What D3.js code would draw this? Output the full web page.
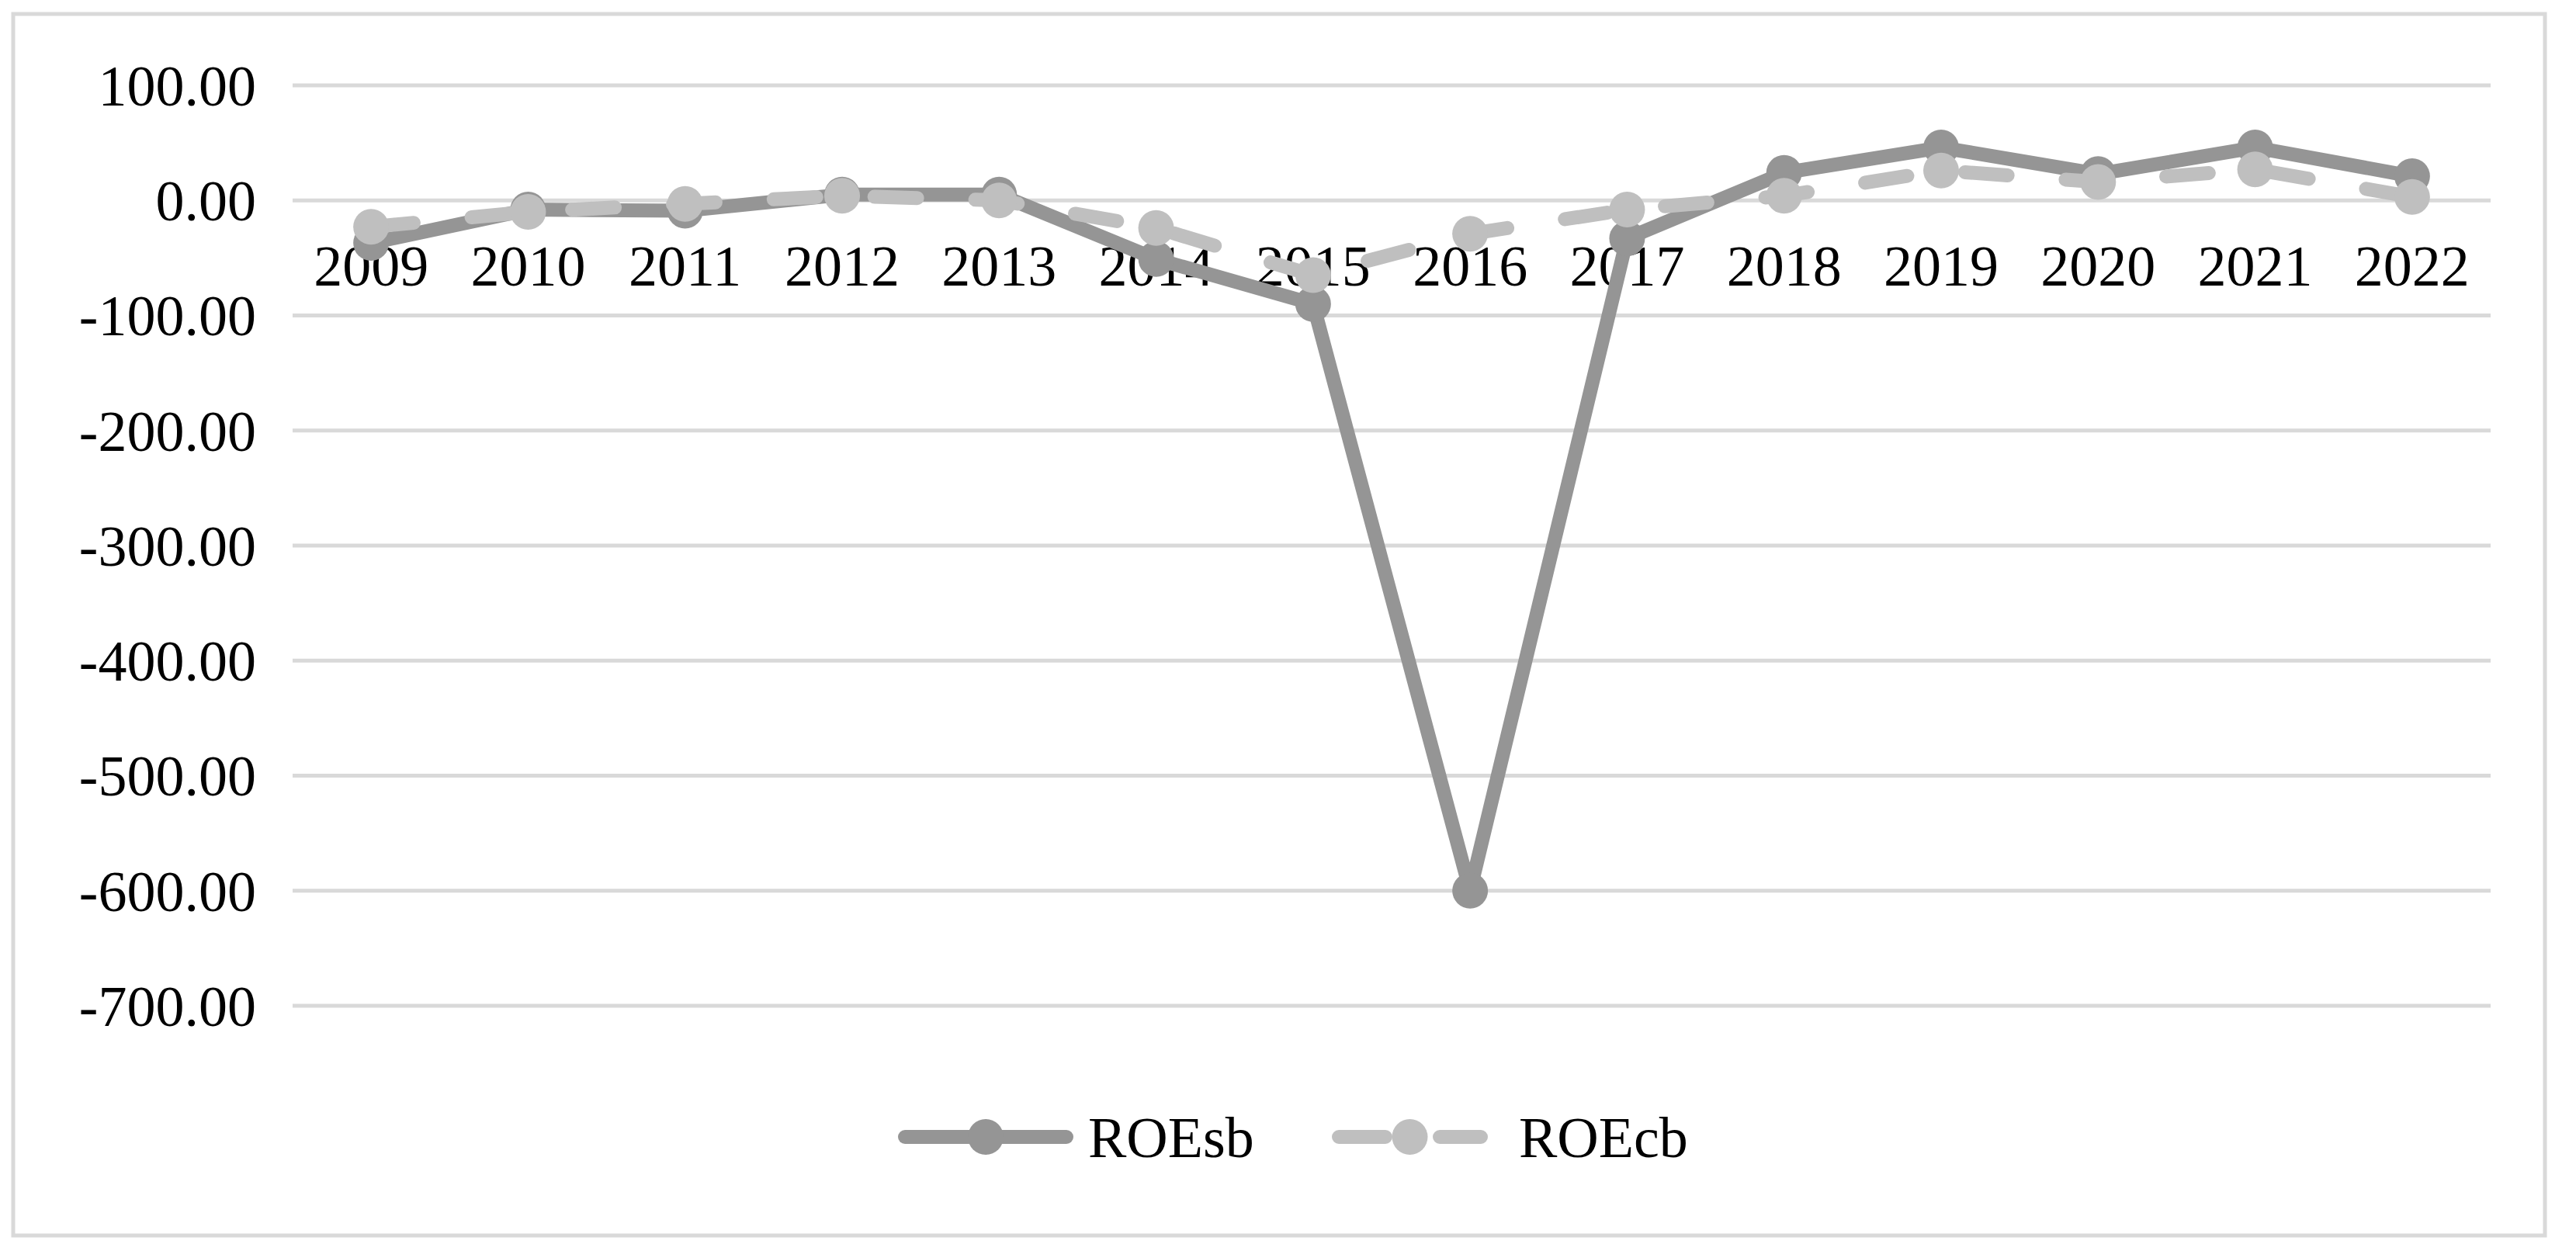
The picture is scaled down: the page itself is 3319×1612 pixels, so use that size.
<!DOCTYPE html>
<html><head><meta charset="utf-8">
<script src="https://cdn.jsdelivr.net/npm/d3@7"></script>
<style>body{margin:0;background:#fff}</style></head>
<body><svg id="c" width="3319" height="1612"></svg>
<script>
const years = ["2009","2010","2011","2012","2013","2014","2015","2016","2017","2018","2019","2020","2021","2022"];
const roeSb = [-37,-8,-9,5,5,-51,-90,-600,-33,24,46,23,46,21];
const roeCb = [-23,-10,-3,4,0,-24,-65,-29,-8,4,26,16,27,3];
const yTicks = [100,0,-100,-200,-300,-400,-500,-600,-700];
const seriesNames = ["ROEsb","ROEcb"];

const svg = d3.select("#c");
const font = "'Liberation Serif', 'DejaVu Serif', serif";
svg.append("rect").attr("x",17).attr("y",18).attr("width",3262).attr("height",1574)
  .attr("fill","#fff").attr("stroke","#d9d9d9").attr("stroke-width",5);

const x = d3.scaleBand().domain(years).range([377,3209]);
const y = d3.scaleLinear().domain([-700,100]).range([1296,110]);

const g = svg.append("g");
g.selectAll("line.grid").data(yTicks).join("line")
  .attr("x1",377).attr("x2",3209).attr("y1",d=>y(d)).attr("y2",d=>y(d))
  .attr("stroke","#d9d9d9").attr("stroke-width",5);
g.selectAll("text.yl").data(yTicks).join("text")
  .attr("x",330).attr("y",d=>y(d)).attr("dy","0.35em").attr("text-anchor","end")
  .attr("font-family",font).attr("font-size",74).attr("fill","#000")
  .text(d=>d3.format(".2f")(d).replace("\u2212","-"));
g.selectAll("text.xl").data(years).join("text")
  .attr("x",d=>x(d)+x.bandwidth()/2).attr("y",y(0)+110).attr("text-anchor","middle")
  .attr("font-family",font).attr("font-size",74).attr("fill","#000").text(d=>d);

const line = d3.line().x((d,i)=>x(years[i])+x.bandwidth()/2).y(d=>y(d));
const styles = [{c:"#959595",dash:null},{c:"#bfbfbf",dash:"55,75"}];
[roeSb,roeCb].forEach((s,k)=>{
  g.append("path").datum(s).attr("d",line).attr("fill","none")
    .attr("stroke",styles[k].c).attr("stroke-width",18).attr("stroke-linejoin","round")
    .attr("stroke-linecap", k ? "round" : "butt")
    .attr("stroke-dasharray",styles[k].dash);
  g.selectAll("circle.s"+k).data(s).join("circle")
    .attr("cx",(d,i)=>x(years[i])+x.bandwidth()/2).attr("cy",d=>y(d)).attr("r",23)
    .attr("fill",styles[k].c);
});

// legend
const lg = [{x1:1166,x2:1374,tx:1402,dash:null},{x1:1725,x2:1908,tx:1957,dash:"60,70"}];
lg.forEach((L,k)=>{
  const cy=1465;
  svg.append("line").attr("x1",L.x1).attr("x2",L.x2).attr("y1",cy).attr("y2",cy)
    .attr("stroke",styles[k].c).attr("stroke-width",18).attr("stroke-linecap","round")
    .attr("stroke-dasharray",L.dash);
  svg.append("circle").attr("cx",(L.x1+L.x2)/2).attr("cy",cy).attr("r",23).attr("fill",styles[k].c);
  svg.append("text").attr("x",L.tx).attr("y",cy).attr("dy","0.35em")
    .attr("font-family",font).attr("font-size",74).attr("fill","#000").text(seriesNames[k]);
});
</script></body></html>
